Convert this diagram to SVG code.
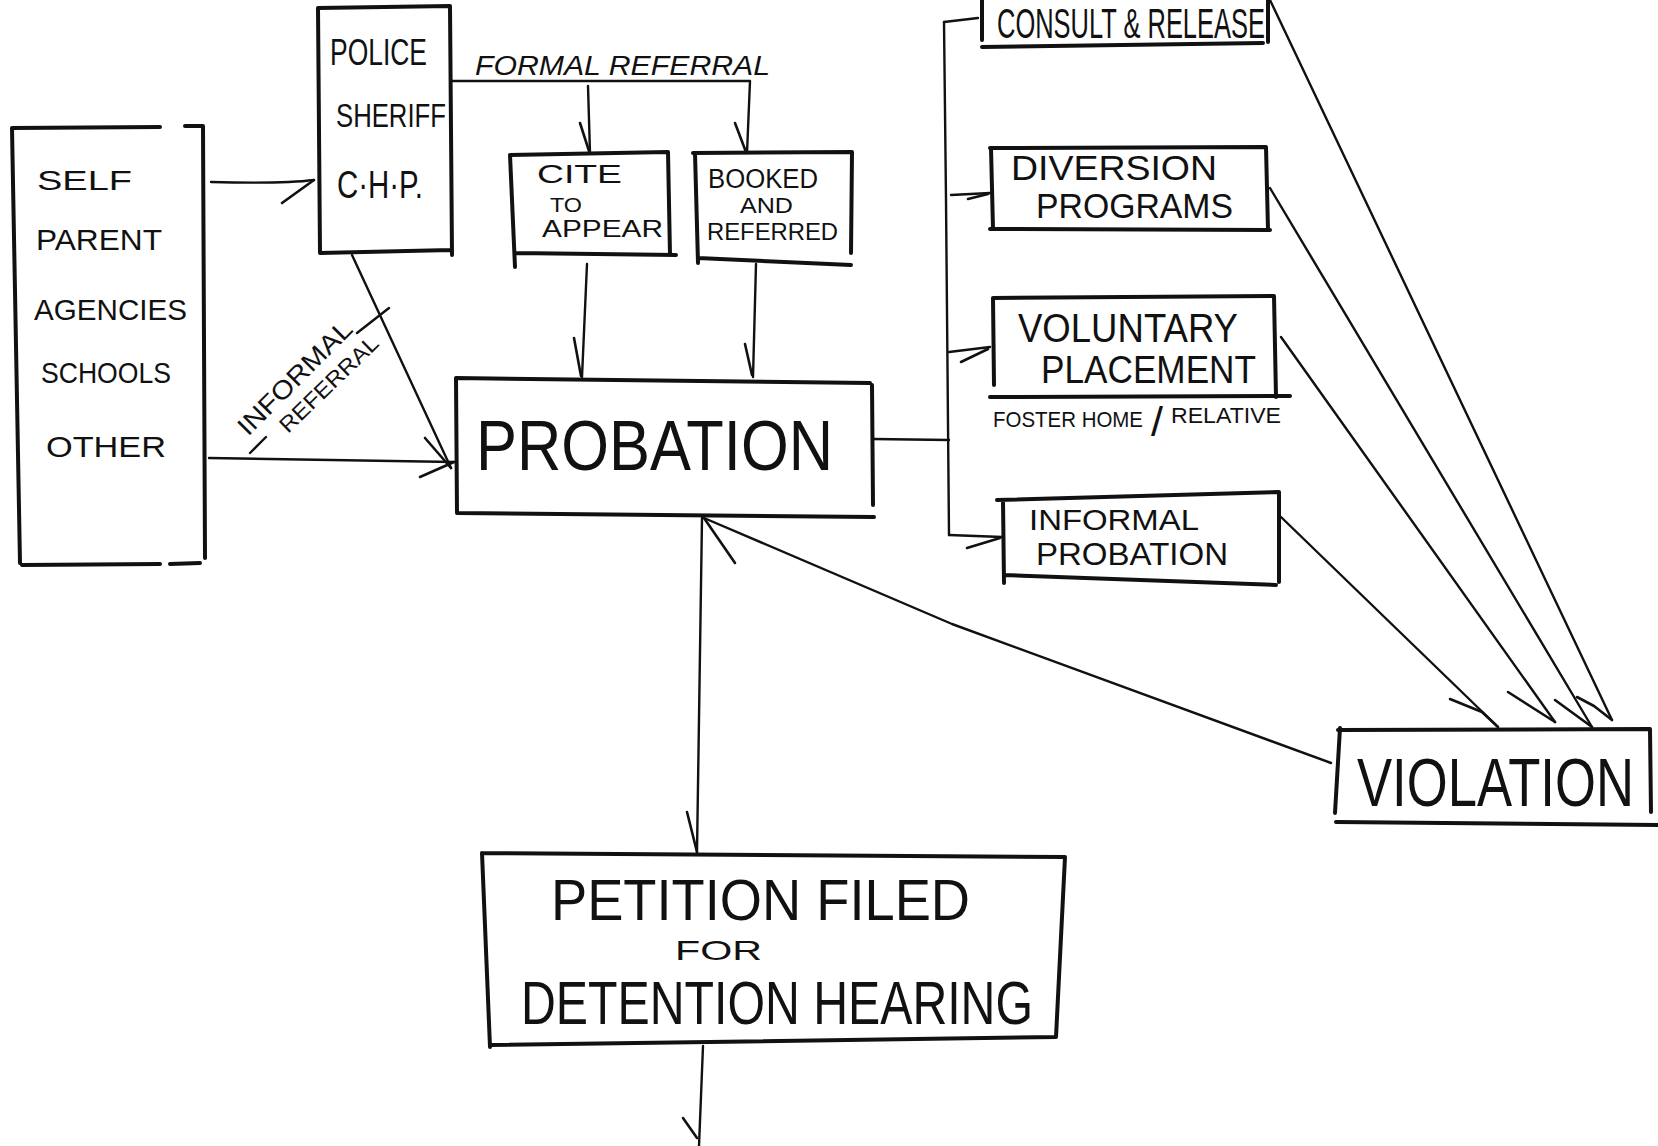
<svg xmlns="http://www.w3.org/2000/svg" width="1658" height="1146" viewBox="0 0 1658 1146">
  <style>
    .box { fill: none; stroke: #111; stroke-width: 4; stroke-linecap: round; stroke-linejoin: round; }
    .wire { fill: none; stroke: #111; stroke-width: 2.4; stroke-linecap: round; stroke-linejoin: round; }
    .barb { fill: none; stroke: #111; stroke-width: 2.6; stroke-linecap: round; stroke-linejoin: round; }
    .t { font-family: "Liberation Sans", Arial, sans-serif; fill: #111; }
    .hand { font-family: "Liberation Sans", Arial, sans-serif; fill: #111; font-style: italic; }
  </style>
  <rect x="0" y="0" width="1658" height="1146" fill="#ffffff"/>

  <!-- referral sources -->
  <g id="node-sources">
    <path class="box" d="M12,128 L160,127 M185,126 L203,126 L205,558 M12,128 L20,563 M22,565 L160,564 M170,564 L200,563"/>
    <text class="t" x="37" y="190" font-size="28" textLength="95" lengthAdjust="spacingAndGlyphs">SELF</text>
    <text class="t" x="36" y="250" font-size="30" textLength="126" lengthAdjust="spacingAndGlyphs">PARENT</text>
    <text class="t" x="34" y="320" font-size="30" textLength="153" lengthAdjust="spacingAndGlyphs">AGENCIES</text>
    <text class="t" x="41" y="383" font-size="30" textLength="130" lengthAdjust="spacingAndGlyphs">SCHOOLS</text>
    <text class="t" x="46" y="457" font-size="30" textLength="120" lengthAdjust="spacingAndGlyphs">OTHER</text>
  </g>

  <!-- law enforcement -->
  <g id="node-police">
    <path class="box" d="M318,8 L450,6 L452,255 M318,8 L320,253 L451,250"/>
    <text class="t" x="330" y="65" font-size="36" textLength="97" lengthAdjust="spacingAndGlyphs">POLICE</text>
    <text class="t" x="336" y="127" font-size="33" textLength="110" lengthAdjust="spacingAndGlyphs">SHERIFF</text>
    <text class="t" x="337" y="198" font-size="38" textLength="86" lengthAdjust="spacingAndGlyphs">C·H·P.</text>
  </g>

  <g id="node-cite">
    <path class="box" d="M510,155 L668,152 L670,255 M510,155 L515,267 M515,253 L676,255"/>
    <text class="t" x="537" y="183" font-size="25" textLength="85" lengthAdjust="spacingAndGlyphs">CITE</text>
    <text class="t" x="550" y="212" font-size="20" textLength="32" lengthAdjust="spacingAndGlyphs">TO</text>
    <text class="t" x="542" y="237" font-size="24" textLength="121" lengthAdjust="spacingAndGlyphs">APPEAR</text>
  </g>

  <g id="node-booked">
    <path class="box" d="M693,153 L852,152 L851,253 M695,153 L698,263 M698,258 L851,265"/>
    <text class="t" x="708" y="188" font-size="27" textLength="110" lengthAdjust="spacingAndGlyphs">BOOKED</text>
    <text class="t" x="740" y="213" font-size="22" textLength="53" lengthAdjust="spacingAndGlyphs">AND</text>
    <text class="t" x="707" y="240" font-size="24" textLength="131" lengthAdjust="spacingAndGlyphs">REFERRED</text>
  </g>

  <g id="node-probation">
    <path class="box" d="M456,378 L870,383 M456,378 L457,513 L874,517 M872,385 L873,505"/>
    <text class="t" x="476" y="470" font-size="70" textLength="357" lengthAdjust="spacingAndGlyphs">PROBATION</text>
  </g>

  <g id="node-consult">
    <path class="box" d="M982,0 L982,40 M982,47 L1263,43 M1268,0 L1268,42"/>
    <text class="t" x="997" y="38" font-size="42" textLength="268" lengthAdjust="spacingAndGlyphs">CONSULT &amp; RELEASE</text>
  </g>

  <g id="node-diversion">
    <path class="box" d="M990,148 L1266,147 L1268,230 M991,148 L993,229 M990,229 L1270,230"/>
    <text class="t" x="1011" y="180" font-size="35" textLength="206" lengthAdjust="spacingAndGlyphs">DIVERSION</text>
    <text class="t" x="1036" y="218" font-size="35" textLength="197" lengthAdjust="spacingAndGlyphs">PROGRAMS</text>
  </g>

  <g id="node-voluntary">
    <path class="box" d="M993,298 L1274,296 L1276,397 M993,298 L994,385 M990,397 L1290,396"/>
    <text class="t" x="1018" y="342" font-size="40" textLength="220" lengthAdjust="spacingAndGlyphs">VOLUNTARY</text>
    <text class="t" x="1041" y="383" font-size="38" textLength="215" lengthAdjust="spacingAndGlyphs">PLACEMENT</text>
    <text class="t" font-size="22"><tspan x="993" y="427" textLength="150" lengthAdjust="spacingAndGlyphs">FOSTER HOME</tspan><tspan x="1151" y="436" font-size="40" textLength="12" lengthAdjust="spacingAndGlyphs">/</tspan><tspan x="1171" y="423" textLength="110" lengthAdjust="spacingAndGlyphs">RELATIVE</tspan></text>
  </g>

  <g id="node-informal-probation">
    <path class="box" d="M997,500 L1279,492 L1279,582 M1003,500 L1004,583 M1004,575 L1276,585"/>
    <text class="t" x="1029" y="530" font-size="30" textLength="170" lengthAdjust="spacingAndGlyphs">INFORMAL</text>
    <text class="t" x="1036" y="565" font-size="32" textLength="192" lengthAdjust="spacingAndGlyphs">PROBATION</text>
  </g>

  <g id="node-violation">
    <path class="box" d="M1338,730 L1650,729 L1651,812 M1340,728 L1335,813 M1336,822 L1658,825"/>
    <text class="t" x="0" y="0" font-size="52" transform="translate(1357,806) scale(1,1.3)" textLength="277" lengthAdjust="spacingAndGlyphs">VIOLATION</text>
  </g>

  <g id="node-petition">
    <path class="box" d="M482,853 L1065,857 L1056,1037 M482,853 L490,1047 M490,1045 L1056,1037"/>
    <text class="t" x="551" y="920" font-size="58" textLength="419" lengthAdjust="spacingAndGlyphs">PETITION FILED</text>
    <text class="t" x="675" y="960" font-size="28" textLength="87" lengthAdjust="spacingAndGlyphs">FOR</text>
    <text class="t" x="521" y="1024" font-size="62" textLength="512" lengthAdjust="spacingAndGlyphs">DETENTION HEARING</text>
  </g>

  <!-- connectors -->
  <g id="connectors">
    <!-- sources to police -->
    <path class="wire" d="M211,182 C250,183 290,183 314,180"/>
    <path class="barb" d="M282,203 L314,180"/>

    <!-- formal referral branch -->
    <path class="wire" d="M452,81 L750,81 L747,153"/>
    <path class="barb" d="M735,123 L746,152"/>
    <path class="wire" d="M588,86 L590,153"/>
    <path class="barb" d="M580,123 L589,151"/>
    <text class="hand" x="475" y="75" font-size="27" textLength="295" lengthAdjust="spacingAndGlyphs">FORMAL REFERRAL</text>

    <!-- cite / booked into probation -->
    <path class="wire" d="M587,264 L582,377"/>
    <path class="barb" d="M574,338 L581,376"/>
    <path class="wire" d="M756,264 L753,377"/>
    <path class="barb" d="M745,344 L752,375"/>

    <!-- police and sources into probation -->
    <path class="wire" d="M352,255 L451,468"/>
    <path class="barb" d="M425,438 L451,468"/>
    <path class="wire" d="M209,458 L454,462"/>
    <path class="barb" d="M420,477 L454,462"/>

    <!-- informal referral label -->
    <path class="wire" d="M250,453 L266,437 M357,333 L389,308"/>
    <text class="t" font-size="26" transform="translate(248,437) rotate(-45)" textLength="150" lengthAdjust="spacingAndGlyphs">INFORMAL</text>
    <text class="t" font-size="22" transform="translate(288,434) rotate(-44)" textLength="128" lengthAdjust="spacingAndGlyphs">REFERRAL</text>

    <!-- probation to the disposition bus -->
    <path class="wire" d="M873,439 L949,440"/>
    <path class="wire" d="M944,22 L946,200 L949,535"/>
    <path class="wire" d="M944,22 L978,18"/>
    <path class="wire" d="M951,195 L990,193"/>
    <path class="barb" d="M968,199 L988,194"/>
    <path class="wire" d="M949,352 L990,347"/>
    <path class="barb" d="M961,362 L988,349"/>
    <path class="wire" d="M949,535 L1002,537"/>
    <path class="barb" d="M967,548 L1000,538"/>

    <!-- dispositions to violation -->
    <path class="wire" d="M1270,0 Q1300,60 1612,720"/>
    <path class="barb" d="M1577,697 L1594,706 L1612,720"/>
    <path class="wire" d="M1270,188 L1592,727"/>
    <path class="barb" d="M1555,700 L1592,727"/>
    <path class="wire" d="M1281,337 L1555,722"/>
    <path class="barb" d="M1508,692 L1555,722"/>
    <path class="wire" d="M1281,517 L1498,727"/>
    <path class="barb" d="M1450,699 L1482,712 L1498,727"/>

    <!-- violation back to probation -->
    <path class="wire" d="M1331,763 L952,624 L704,518"/>
    <path class="barb" d="M735,563 L704,518"/>

    <!-- probation down to petition and beyond -->
    <path class="wire" d="M702,518 L697,852"/>
    <path class="barb" d="M687,812 L697,852"/>
    <path class="wire" d="M703,1046 L699,1146"/>
    <path class="barb" d="M683,1118 L697,1138"/>
  </g>
</svg>
